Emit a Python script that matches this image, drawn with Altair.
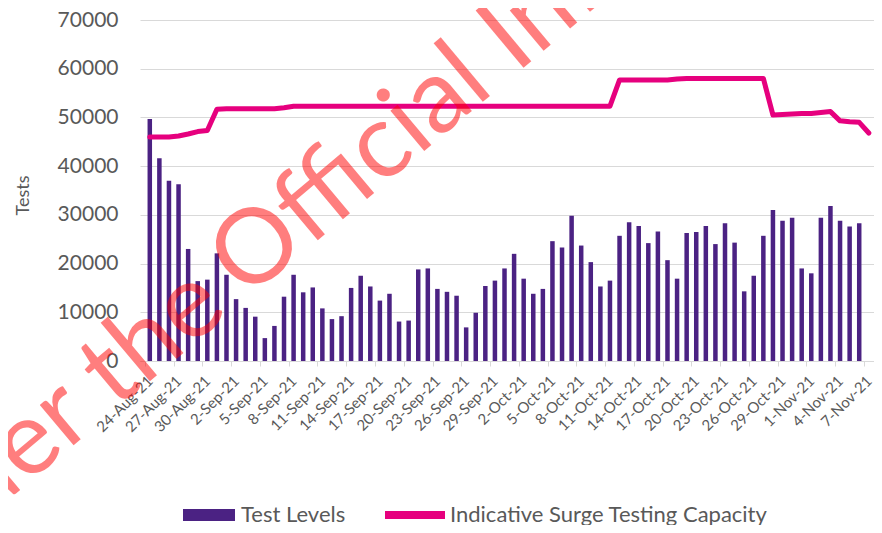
import altair as alt
import pandas as pd

# ---------------- data ----------------
dates = pd.date_range("2021-08-24", "2021-11-07", freq="D")

tick_labels = ["24-Aug-21", "27-Aug-21", "30-Aug-21", "2-Sep-21", "5-Sep-21", "8-Sep-21",
               "11-Sep-21", "14-Sep-21", "17-Sep-21", "20-Sep-21", "23-Sep-21", "26-Sep-21",
               "29-Sep-21", "2-Oct-21", "5-Oct-21", "8-Oct-21", "11-Oct-21", "14-Oct-21",
               "17-Oct-21", "20-Oct-21", "23-Oct-21", "26-Oct-21", "29-Oct-21", "1-Nov-21",
               "4-Nov-21", "7-Nov-21"]

tests = [49700, 41600, 37000, 36300, 23000, 16400, 16700, 22100, 17700, 12700,
         10900, 9100, 4700, 7200, 13200, 17700, 14100, 15100, 10800, 8600,
         9200, 15000, 17500, 15300, 12400, 13800, 8100, 8300, 18800, 19000,
         14800, 14200, 13400, 6900, 9900, 15400, 16500, 19000, 22000, 16900,
         13800, 14800, 24600, 23300, 29800, 23700, 20300, 15300, 16500, 25700,
         28500, 27700, 24200, 26600, 20700, 16900, 26300, 26500, 27700, 24000,
         28300, 24300, 14300, 17500, 25700, 31000, 28800, 29400, 19000, 18000,
         29400, 31800, 28800, 27600, 28300, None]

capacity = [46000, 46000, 46000, 46200, 46600, 47100, 47300, 51700, 51800, 51800,
            51800, 51800, 51800, 51800, 52000, 52300, 52300, 52300, 52300, 52300,
            52300, 52300, 52300, 52300, 52300, 52300, 52300, 52300, 52300, 52300,
            52300, 52300, 52300, 52300, 52300, 52300, 52300, 52300, 52300, 52300,
            52300, 52300, 52300, 52300, 52300, 52300, 52300, 52300, 52300, 57700,
            57700, 57700, 57700, 57700, 57700, 57900, 58000, 58000, 58000, 58000,
            58000, 58000, 58000, 58000, 58000, 50500, 50600, 50700, 50800, 50800,
            51000, 51200, 49300, 49100, 49000, 46800]

series_names = ["Test Levels", "Indicative Surge Testing Capacity"]
watermark = ["Released under the", "Official Information Act"]

# ---------------- styling ----------------
BAR_COLOR = "#4B2283"
LINE_COLOR = "#E6007E"
TEXT_COLOR = "#595959"
GRID_COLOR = "#D9D9D9"
FONT = "Lato"
PLOT_W = 734
PLOT_H = 341
DAY_PX = PLOT_W / 75.5

df = pd.DataFrame({
    "day": list(range(len(dates))),
    "date": dates.strftime("%Y-%m-%d"),
    "tests": tests,
    "capacity": capacity,
})
df["s_bar"] = series_names[0]
df["s_line"] = series_names[1]

tick_vals = list(range(0, len(dates), 3))
label_array = "[" + ",".join("'" + t + "'" for t in tick_labels) + "]"
label_expr = label_array + "[round(datum.value / 3)]"

x_enc = alt.X(
    "day:Q",
    scale=alt.Scale(domain=[-0.5, 75.02], nice=False, zero=False),
    axis=alt.Axis(
        values=tick_vals,
        labelExpr=label_expr,
        labelAngle=-45,
        labelAlign="right",
        labelBaseline="middle",
        labelOverlap=False,
        labelBound=False,
        labelFlush=False,
        labelFont=FONT,
        labelFontSize=15,
        labelColor=TEXT_COLOR,
        labelPadding=12,
        tickOffset=-DAY_PX / 2,
        labelOffset=DAY_PX / 2,
        tickSize=5,
        tickColor=GRID_COLOR,
        domainColor=GRID_COLOR,
        grid=False,
        title=None,
    ),
)

y_axis = alt.Axis(
    values=list(range(0, 70001, 10000)),
    format="d",
    domain=False,
    ticks=False,
    tickSize=0,
    labelPadding=22,
    labelFont=FONT,
    labelFontSize=21,
    labelColor=TEXT_COLOR,
    gridColor=GRID_COLOR,
    gridWidth=1,
    title="Tests",
    titleFont=FONT,
    titleFontSize=18,
    titleFontWeight="normal",
    titleColor=TEXT_COLOR,
    titleX=-117,
    titleY=175,
    titleAngle=270,
    titleAlign="center",
    titleBaseline="middle",
)

y_scale = alt.Scale(domain=[0, 70000], nice=False)

LEG_CY = 495  # legend row centre, plot coordinates

bars = alt.Chart(df).mark_bar(width=4.5).encode(
    x=x_enc,
    y=alt.Y("tests:Q", scale=y_scale, axis=y_axis),
    fill=alt.Fill(
        "s_bar:N",
        scale=alt.Scale(domain=[series_names[0]], range=[BAR_COLOR]),
        legend=alt.Legend(
            orient="none", legendX=43, legendY=LEG_CY - 26, title=None, padding=0,
            symbolType="M-1,-0.23H1V0.23H-1Z", symbolSize=2704, symbolStrokeWidth=0,
            symbolOffset=0, labelOffset=6, labelLimit=0,
            labelFont=FONT, labelFontSize=22, labelColor=TEXT_COLOR,
        ),
    ),
)

line = alt.Chart(df).mark_line(strokeWidth=5, strokeJoin="round", strokeCap="round").encode(
    x=x_enc,
    y=alt.Y("capacity:Q", scale=y_scale, axis=y_axis),
    stroke=alt.Stroke(
        "s_line:N",
        scale=alt.Scale(domain=[series_names[1]], range=[LINE_COLOR]),
        legend=alt.Legend(
            orient="none", legendX=241, legendY=LEG_CY - 34, title=None, padding=0,
            symbolType="stroke", symbolSize=3600, symbolStrokeWidth=8,
            symbolOffset=0, labelOffset=1, labelLimit=0,
            labelFont=FONT, labelFontSize=22, labelColor=TEXT_COLOR,
        ),
    ),
)

WM_SIZE = 104
WM_ANGLE = 320
WM_COLOR = "#FF0000"

wm_a = alt.Chart(pd.DataFrame({"t": [watermark[0]]})).mark_text(
    font=FONT, fontSize=WM_SIZE, angle=WM_ANGLE, align="right",
    baseline="alphabetic", color=WM_COLOR, opacity=0.5,
).encode(text="t:N", x=alt.value(90.7), y=alt.value(293.3))

wm_b = alt.Chart(pd.DataFrame({"t": [watermark[1]]})).mark_text(
    font=FONT, fontSize=WM_SIZE, angle=WM_ANGLE, align="left",
    baseline="alphabetic", color=WM_COLOR, opacity=0.5,
).encode(text="t:N", x=alt.value(106.1), y=alt.value(280.4))

chart = alt.layer(bars, line, wm_a, wm_b).resolve_scale(
    fill="independent", stroke="independent"
).properties(
    width=PLOT_W,
    height=PLOT_H,
    autosize=alt.AutoSizeParams(type="none"),
    padding={"left": 132, "top": 12, "right": 0, "bottom": 164},
    background="white",
).configure_view(stroke=None).configure_axisX(labelOverlap=False)

chart.save("out.html", embed_options={"renderer": "svg", "actions": False})
